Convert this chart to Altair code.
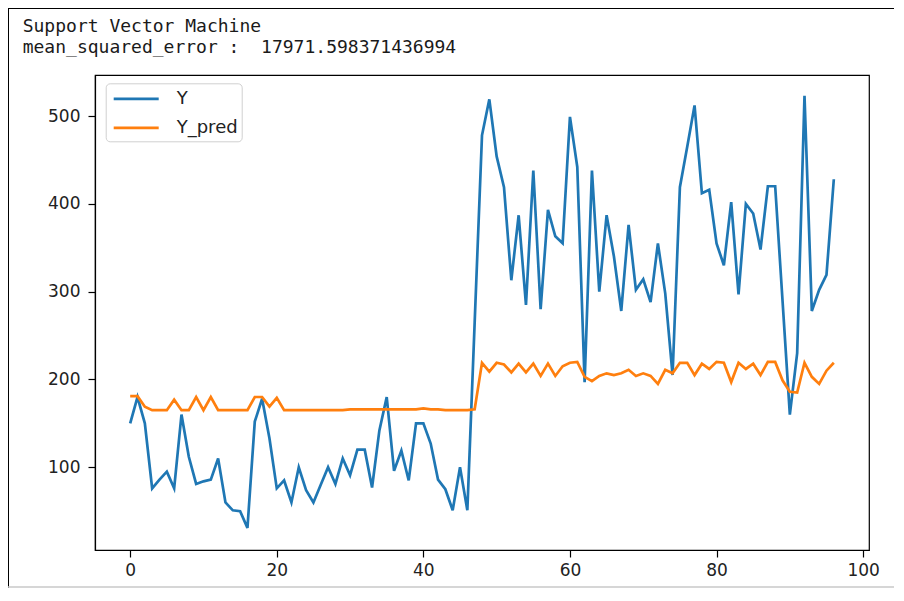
import altair as alt
import pandas as pd

# index of each sample
idx = list(range(97))

# actual values (blue)
y_true = [150, 180, 150, 76, 86, 95, 76, 160, 112, 81,
          84, 86, 110, 60, 51, 50, 31, 152, 178, 133,
          76, 85, 60, 100, 74, 60, 80, 100, 81, 110,
          91, 120, 120, 77, 142, 180, 96, 119, 85, 150,
          150, 127, 86, 75, 51, 100, 51, 265, 478, 519,
          454, 419, 313, 387, 285, 438, 280, 393, 363, 355,
          499, 442, 197, 438, 300, 387, 340, 278, 376, 302,
          314, 288, 355, 298, 205, 419, 465, 512, 412, 416,
          355, 330, 402, 297, 400, 389, 348, 420, 420, 290,
          160, 230, 523, 278, 302, 319, 428]

# predicted values (orange)
y_pred = [181, 181, 169, 165, 165, 165, 177, 165, 165, 180,
          165, 180, 165, 165, 165, 165, 165, 180, 180, 169,
          179, 165, 165, 165, 165, 165, 165, 165, 165, 165,
          166, 166, 166, 166, 166, 166, 166, 166, 166, 166,
          167, 166, 166, 165, 165, 165, 165, 166, 219, 209,
          219, 217, 208, 218, 208, 218, 204, 218, 204, 215,
          219, 220, 203, 198, 204, 207, 205, 207, 211, 204,
          207, 204, 195, 211, 207, 219, 219, 205, 218, 212,
          220, 219, 197, 219, 212, 218, 205, 220, 220, 199,
          186, 185, 219, 203, 195, 210, 219]

series_names = ["Y", "Y_pred"]
series_colors = ["#1f77b4", "#ff7f0e"]
x_ticks = [0, 20, 40, 60, 80, 100]
y_ticks = [100, 200, 300, 400, 500]

# two spaces after the colon kept visible with a no-break space
title_lines = ["Support Vector Machine", "mean_squared_error :\u00a0 17971.598371436994"]

df = pd.DataFrame({
    "i": idx + idx,
    "value": y_true + y_pred,
    "series": [series_names[0]] * len(idx) + [series_names[1]] * len(idx),
})

lines = alt.Chart(df).mark_line(strokeWidth=2.7, clip=True).encode(
    x=alt.X("i:Q",
            scale=alt.Scale(domain=[-4.8, 100.8], nice=False, zero=False),
            axis=alt.Axis(values=x_ticks, title=None, grid=False, labelPadding=5)),
    y=alt.Y("value:Q",
            scale=alt.Scale(domain=[5.8, 546.7], nice=False, zero=False),
            axis=alt.Axis(values=y_ticks, title=None, grid=False, labelPadding=8)),
    color=alt.Color("series:N",
                    scale=alt.Scale(domain=series_names, range=series_colors),
                    legend=alt.Legend(
                        title=None, orient="none", legendX=10.7, legendY=8.3,
                        symbolType="M-2.25,0H2.25", symbolSize=400,
                        symbolStrokeWidth=2.7, symbolOffset=15, labelOffset=29,
                        labelFontSize=18, labelFont="DejaVu Sans", labelColor="#222222",
                        rowPadding=8, padding=4, strokeColor="#d0d0d0",
                        fillColor="white", cornerRadius=4)),
    order=alt.Order("i:Q"),
)

frame_df = pd.DataFrame({"k": [0]})
left_edge = alt.Chart(frame_df).mark_rule(color="black", strokeWidth=1).encode(
    x=alt.value(-86.5), y=alt.value(-67), y2=alt.value(513))
top_edge = alt.Chart(frame_df).mark_rule(color="black", strokeWidth=1).encode(
    x=alt.value(-87), x2=alt.value(799), y=alt.value(-66.5))
bottom_edge = alt.Chart(frame_df).mark_rule(color="#c8c8c8", strokeWidth=1.5).encode(
    x=alt.value(-87), x2=alt.value(799), y=alt.value(512))

title_1 = alt.Chart(frame_df).mark_text(
    font="DejaVu Sans Mono", fontSize=18, color="#1a1a1a",
    align="left", baseline="alphabetic").encode(
    x=alt.value(-72.3), y=alt.value(-43), text=alt.value(title_lines[0]))
title_2 = alt.Chart(frame_df).mark_text(
    font="DejaVu Sans Mono", fontSize=18, color="#1a1a1a",
    align="left", baseline="alphabetic").encode(
    x=alt.value(-72.3), y=alt.value(-22), text=alt.value(title_lines[1]))

chart = alt.layer(lines, left_edge, top_edge, bottom_edge, title_1, title_2).properties(
    width=774,
    height=475,
    padding={"left": 87, "top": 67, "right": 25, "bottom": 38},
    autosize=alt.AutoSizeParams(type="none"),
    background="white",
).configure_view(
    stroke="black", strokeWidth=1.2
).configure_axis(
    domainColor="black", domainWidth=1.2,
    tickColor="black", tickWidth=1.2, tickSize=7,
    labelFont="DejaVu Sans", labelFontSize=17, labelColor="#222222",
)

chart.save("out.html", embed_options={"renderer": "svg", "actions": False})
